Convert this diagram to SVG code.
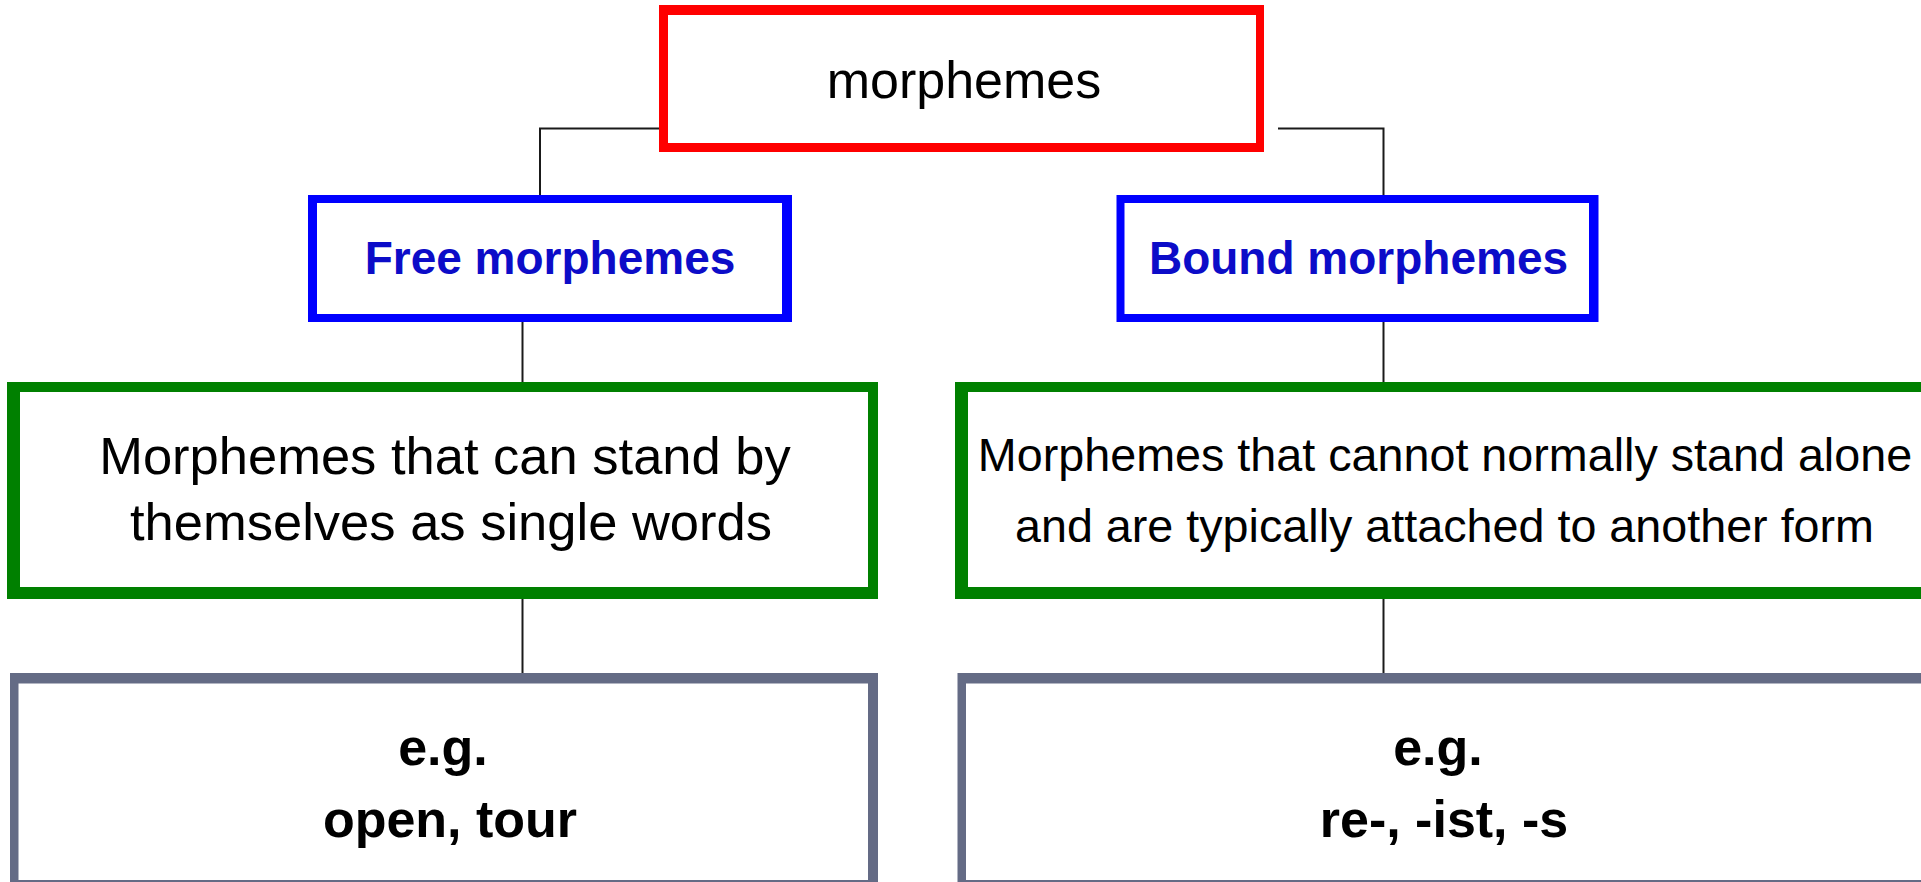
<svg xmlns="http://www.w3.org/2000/svg" width="1921" height="882" viewBox="0 0 1921 882">
<style>
  .bg { fill: #ffffff; }
  .inner { fill: #ffffff; }
  .red { fill: #ff0000; }
  .blue { fill: #0000ff; }
  .green { fill: #008000; }
  .grey { fill: #646b85; }
  .t { font-family: "Liberation Sans", Arial, sans-serif; fill: #000000; text-anchor: middle; }
  .tb { font-family: "Liberation Sans", Arial, sans-serif; font-weight: bold; fill: #0c0cc8; text-anchor: middle; }
  .tk { font-family: "Liberation Sans", Arial, sans-serif; font-weight: bold; fill: #000000; text-anchor: middle; }
  .conn { fill: none; stroke: #1a1a1a; stroke-width: 2; }
</style>
<rect class="bg" x="0" y="0" width="1921" height="882"/>

<g id="connectors">
  <polyline class="conn" points="663,128.5 540,128.5 540,197"/>
  <polyline class="conn" points="1278,128.5 1383.5,128.5 1383.5,197"/>
  <line class="conn" x1="522.5" y1="320" x2="522.5" y2="384"/>
  <line class="conn" x1="1383.5" y1="320" x2="1383.5" y2="384"/>
  <line class="conn" x1="522.5" y1="597" x2="522.5" y2="675"/>
  <line class="conn" x1="1383.5" y1="597" x2="1383.5" y2="675"/>
</g>

<g id="node-morphemes">
  <rect class="red" x="659" y="5" width="605" height="147"/>
  <rect class="inner" x="668" y="15" width="588" height="128"/>
  <text class="t" x="964" y="98" font-size="52">morphemes</text>
</g>

<g id="node-free">
  <rect class="blue" x="308" y="195" width="484" height="127"/>
  <rect class="inner" x="317" y="203" width="465" height="111"/>
  <text class="tb" x="550" y="274" font-size="46">Free morphemes</text>
</g>

<g id="node-bound">
  <rect class="blue" x="1116.5" y="195" width="482" height="127"/>
  <rect class="inner" x="1124.5" y="203" width="464.5" height="111"/>
  <text class="tb" x="1358.5" y="274" font-size="46">Bound morphemes</text>
</g>

<g id="node-free-def">
  <rect class="green" x="7" y="382" width="871" height="217"/>
  <rect class="inner" x="20" y="392" width="848" height="195"/>
  <text class="t" x="445" y="474" font-size="52.5">Morphemes that can stand by</text>
  <text class="t" x="451" y="540" font-size="52.5">themselves as single words</text>
</g>

<g id="node-bound-def">
  <rect class="green" x="955" y="382" width="1000" height="217"/>
  <rect class="inner" x="968" y="392" width="1000" height="195"/>
  <text class="t" x="1445" y="471" font-size="46.7">Morphemes that cannot normally stand alone</text>
  <text class="t" x="1444.5" y="542" font-size="46.7">and are typically attached to another form</text>
</g>

<g id="node-free-eg">
  <rect class="grey" x="10" y="673" width="868" height="220"/>
  <rect class="inner" x="18.5" y="683.5" width="849.5" height="196.5"/>
  <text class="tk" x="443" y="765" font-size="52">e.g.</text>
  <text class="tk" x="450" y="837" font-size="52">open, tour</text>
</g>

<g id="node-bound-eg">
  <rect class="grey" x="957.5" y="673" width="1000" height="220"/>
  <rect class="inner" x="966" y="683.5" width="1000" height="196.5"/>
  <text class="tk" x="1438" y="765" font-size="52">e.g.</text>
  <text class="tk" x="1444" y="837" font-size="52">re-, -ist, -s</text>
</g>
</svg>
